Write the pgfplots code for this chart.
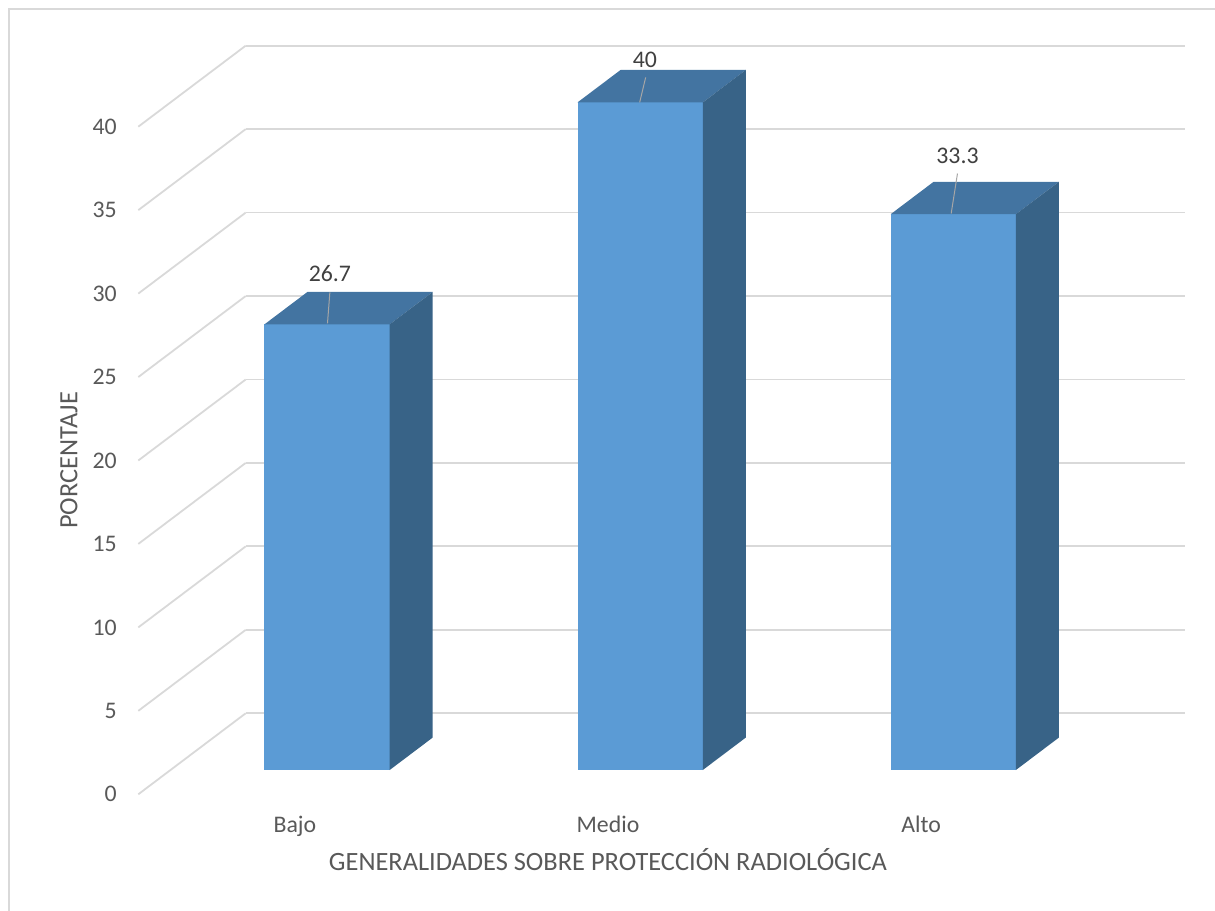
\documentclass[border=0pt]{standalone}
\usepackage{pgfplots}
\pgfplotsset{compat=1.18}
\usepackage{fontspec}
\setmainfont{Carlito}
\usetikzlibrary{calc}

\definecolor{barfront}{HTML}{5B9BD5}
\definecolor{bartop}{HTML}{4374A1}
\definecolor{barside}{HTML}{386387}
\definecolor{gridgray}{HTML}{D9D9D9}
\definecolor{ticktext}{HTML}{595959}
\definecolor{labeltext}{HTML}{404040}
\definecolor{leader}{HTML}{A6A6A6}

% one box per category: #1 left edge, #2 right edge, #3 value (depth 0.3 to 0.7)
\newcommand\cuboid[3]{%
  \addplot3[fill=barfront, draw=none] coordinates {(#1,0.3,0) (#2,0.3,0) (#2,0.3,#3) (#1,0.3,#3)};
  \addplot3[fill=bartop, draw=none] coordinates {(#1,0.3,#3) (#2,0.3,#3) (#2,0.7,#3) (#1,0.7,#3)};
  \addplot3[fill=barside, draw=none] coordinates {(#2,0.3,0) (#2,0.7,0) (#2,0.7,#3) (#2,0.3,#3)};
}

\begin{document}
\begin{tikzpicture}
\begin{axis}[
  x={(156.55pt,0pt)}, y={(53.7pt,40.5pt)}, z={(0pt,8.345pt)},
  xmin=-0.5, xmax=2.5, ymin=0, ymax=1, zmin=0, zmax=40,
  axis line style={draw=none},
  major tick length=0pt,
  xtick={0,1,2}, xticklabels={Bajo,Medio,Alto},
  ytick=\empty,
  ztick={0,5,...,40},
  zmajorgrids=true, xmajorgrids=false, ymajorgrids=false,
  major grid style={gridgray, line width=0.9pt},
  tick label style={font=\fontsize{11.9}{14}\selectfont, text=ticktext},
  /pgf/number format/assume math mode=true,
  zticklabel style={anchor=east, inner sep=0pt, xshift=-10.6pt},
  xticklabel style={anchor=base, inner sep=0pt, yshift=-19pt},
  clip=false,
]
\cuboid{-0.2}{0.2}{26.7}
\cuboid{0.8}{1.2}{40}
\cuboid{1.8}{2.2}{33.3}

% value labels with their leader lines
\draw[leader, line width=0.5pt] (axis cs:0,0.3,26.7) ++(0.2pt,0.5pt) -- ++(1.2pt,15.5pt);
\draw[leader, line width=0.5pt] (axis cs:1,0.3,40) ++(-0.25pt,0pt) -- ++(3pt,12.5pt);
\draw[leader, line width=0.5pt] (axis cs:2,0.3,33.3) ++(-1.05pt,0.35pt) -- ++(3.15pt,20pt);
\node[font=\fontsize{11.9}{14}\selectfont, text=labeltext, xshift=1.4pt, yshift=25.2pt] at (axis cs:0,0.3,26.7) {26.7};
\node[font=\fontsize{11.9}{14}\selectfont, text=labeltext, xshift=2.4pt, yshift=21.5pt] at (axis cs:1,0.3,40) {40};
\node[font=\fontsize{11.9}{14}\selectfont, text=labeltext, xshift=2.1pt, yshift=29.1pt] at (axis cs:2,0.3,33.3) {33.3};

% axis titles
\node[font=\fontsize{13.2}{16}\selectfont, text=ticktext, anchor=base, yshift=-38pt] at (axis cs:1,0,0) {GENERALIDADES SOBRE PROTECCIÓN RADIOLÓGICA};
\node[font=\fontsize{13.2}{16}\selectfont, text=ticktext, xshift=-34.65pt, rotate=90] at (axis cs:-0.5,0,20) {PORCENTAJE};

\coordinate (O) at (axis cs:-0.5,0,0);
\end{axis}
\pgfresetboundingbox
\path[use as bounding box] ($(O)+(-69.15pt,397.15pt)$) rectangle ($(O)+(538.35pt,-57.85pt)$);
\draw[gridgray, line width=0.6pt] ($(O)+(-64.65pt,392.65pt)$) rectangle ($(O)+(545pt,-65pt)$);
\end{tikzpicture}
\end{document}
